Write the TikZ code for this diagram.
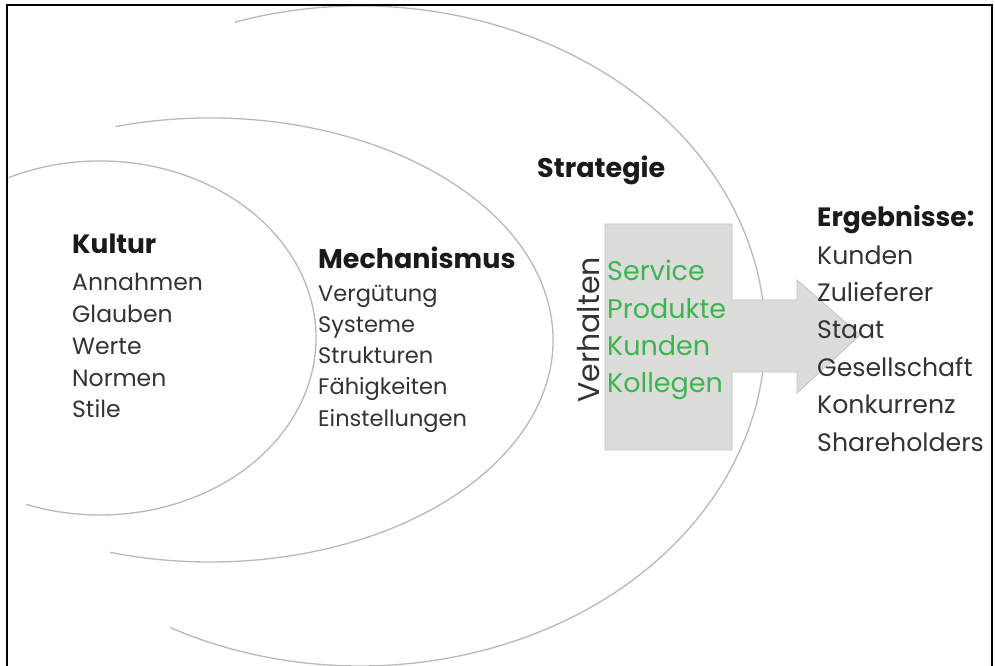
\documentclass[tikz,border=0pt]{standalone}
\usepackage{fontspec}
\setmainfont{Poppins}
\definecolor{ringgray}{HTML}{B8B8B8}
\definecolor{boxfill}{HTML}{DCDCDA}
\definecolor{boxline}{HTML}{C2C2C2}
\definecolor{txtgray}{HTML}{333333}
\definecolor{headblack}{HTML}{1A1A1A}
\definecolor{leafgreen}{HTML}{3DB54F}
\begin{document}
\begin{tikzpicture}[x=1pt,y=1pt,
  ring/.style={draw=ringgray, line width=1.3pt},
  head/.style={anchor=base west, inner sep=0pt, text=headblack},
  item/.style={anchor=base west, inner sep=0pt, text=txtgray},
  kulturitem/.style={item, font=\fontsize{23.5}{28}\selectfont},
  mechitem/.style={item, font=\fontsize{22.5}{27}\selectfont},
  greenitem/.style={anchor=base west, inner sep=0pt, text=leafgreen, font=\fontsize{27}{32}\selectfont},
  resultitem/.style={item, font=\fontsize{25.2}{30}\selectfont},
  arrowshape/.style={fill=boxfill, draw=boxline, line width=0.8pt}]
\useasboundingbox (0,0) rectangle (995,666);

% three nested rings, open on the left
\draw[ring] (100,328) ++(115:216 and 177) arc[start angle=115, end angle=-110, x radius=216, y radius=177];
\draw[ring] (210,326) ++(106:343 and 222) arc[start angle=106, end angle=-107, x radius=343, y radius=222];
\draw[ring] (360,330) ++(108:405 and 330) arc[start angle=108, end angle=-118, x radius=405, y radius=330];

% block arrow: Verhalten leads to results
\draw[arrowshape] (605,442) -- (732,442) -- (732,366) -- (797,366) -- (797,386)
  -- (860,331) -- (797,273) -- (797,294) -- (732,294) -- (732,216) -- (605,216) -- cycle;

% Kultur
\node[head, font=\bfseries\fontsize{26.5}{31}\selectfont] (kultur) at (72,412) {Kultur};
\node[kulturitem] (k1) at (72,375) {Annahmen};
\node[kulturitem] (k2) at (72,343) {Glauben};
\node[kulturitem] (k3) at (72,311) {Werte};
\node[kulturitem] (k4) at (72,279) {Normen};
\node[kulturitem] (k5) at (72,248) {Stile};

% Mechanismus
\node[head, font=\bfseries\fontsize{27}{32}\selectfont] (mech) at (318,397) {Mechanismus};
\node[mechitem] (m1) at (318,364) {Vergütung};
\node[mechitem] (m2) at (318,333) {Systeme};
\node[mechitem] (m3) at (318,302) {Strukturen};
\node[mechitem] (m4) at (318,271) {Fähigkeiten};
\node[mechitem] (m5) at (318,239) {Einstellungen};

% Strategie
\node[head, font=\bfseries\fontsize{27}{32}\selectfont] (strat) at (537,488) {Strategie};
\node[anchor=base, inner sep=0pt, rotate=90, text=txtgray, font=\fontsize{30}{36}\selectfont] (verh) at (599,336) {Verhalten};
\node[greenitem] (g1) at (607,385) {Service};
\node[greenitem] (g2) at (607,347) {Produkte};
\node[greenitem] (g3) at (607,310) {Kunden};
\node[greenitem] (g4) at (607,273) {Kollegen};

% Ergebnisse
\node[head, font=\bfseries\fontsize{26.5}{31}\selectfont] (erg) at (817,439) {Ergebnisse:};
\node[resultitem] (e1) at (817,401) {Kunden};
\node[resultitem] (e2) at (817,364) {Zulieferer};
\node[resultitem] (e3) at (817,327) {Staat};
\node[resultitem] (e4) at (817,289) {Gesellschaft};
\node[resultitem] (e5) at (817,252) {Konkurrenz};
\node[resultitem] (e6) at (817,214) {Shareholders};

% frame, open at the bottom
\fill[white] (992,0) rectangle (995,666);
\draw[black, line width=2.6pt] (7,0) -- (7,661) -- (992,661) -- (992,0);
\end{tikzpicture}
\end{document}
